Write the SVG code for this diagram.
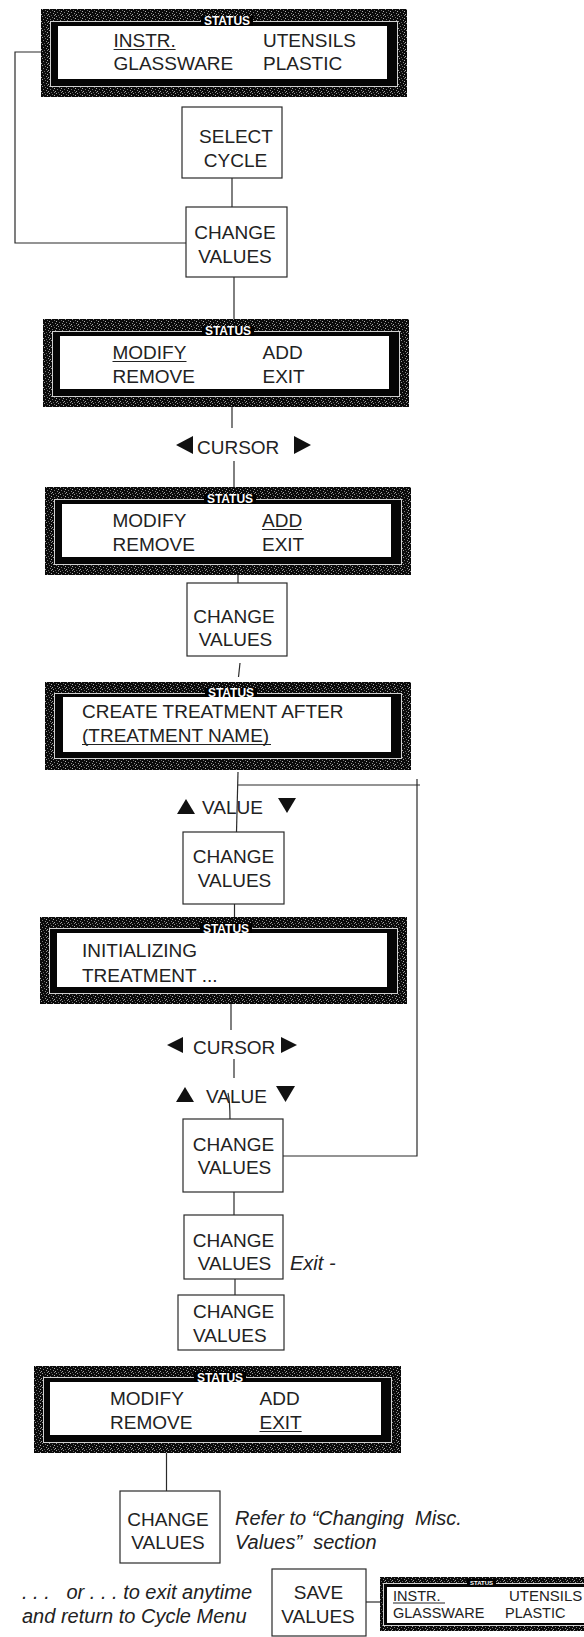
<svg xmlns="http://www.w3.org/2000/svg" width="584" height="1637" viewBox="0 0 584 1637">
  <defs>
    <!-- dithered dark fill for the display bezels -->
    <pattern id="grain" width="7" height="7" patternUnits="userSpaceOnUse">
      <rect width="7" height="7" fill="#0a0a0a"/>
      <rect x="1" y="0" width="1" height="1" fill="#9a9a9a"/>
      <rect x="4" y="1" width="1" height="1" fill="#6a6a6a"/>
      <rect x="6" y="2" width="1" height="1" fill="#b0b0b0"/>
      <rect x="2" y="3" width="1" height="1" fill="#7a7a7a"/>
      <rect x="5" y="4" width="1" height="1" fill="#8c8c8c"/>
      <rect x="0" y="5" width="1" height="1" fill="#a5a5a5"/>
      <rect x="3" y="6" width="1" height="1" fill="#5e5e5e"/>
      <rect x="6" y="6" width="1" height="1" fill="#888"/>
    </pattern>
    <style>
      .t { font-family: "Liberation Sans", Arial, sans-serif; font-size: 19px; fill: #222; }
      .mid { text-anchor: middle; }
      .it { font-family: "Liberation Sans", Arial, sans-serif; font-style: italic; font-size: 20px; fill: #222; white-space: pre; }
      .status { font-family: "Liberation Sans", Arial, sans-serif; font-weight: bold; font-size: 12px; fill: #fff; text-anchor: middle; }
      .box { fill: #fff; stroke: #2a2a2a; stroke-width: 1.2; }
      .conn path { fill: none; stroke: #2a2a2a; stroke-width: 1.2; }
      .lcd-frame { fill: url(#grain); }
      .lcd-band { fill: #050505; stroke: #d0d0d0; stroke-width: 1; }
      .lcd-panel { fill: #fff; }
      .ul { stroke: #222; stroke-width: 1.2; }
      .tri { fill: #111; }
    </style>
  </defs>

  <rect width="584" height="1637" fill="#fff"/>

  <!-- connectors -->
  <g id="connectors" class="conn">
    <path d="M41,52 H15 V243 H186"/>
    <path d="M232,178 V207"/>
    <path d="M234,277 V319"/>
    <path d="M232,407 V428"/>
    <path d="M234,461 V487"/>
    <path d="M238,574 V583"/>
    <path d="M240,663 L238.5,677"/>
    <path d="M238,772 L236.5,832"/>
    <path d="M238,785 H420"/>
    <path d="M417,779 V1156 H283"/>
    <path d="M234.5,904 V917"/>
    <path d="M231,1004 V1030"/>
    <path d="M234,1059 V1078"/>
    <path d="M228,1093 Q230,1102 230,1119"/>
    <path d="M234,1192 V1215"/>
    <path d="M235,1279 V1295"/>
    <path d="M166.5,1453 V1491"/>
    <path d="M366,1602 H380"/>
  </g>

  <!-- display: cycle menu -->
  <g id="lcd-cycle-menu" transform="translate(41,9)">
    <rect class="lcd-frame" width="366" height="88"/>
    <rect class="lcd-band" x="9.5" y="12.5" width="347" height="65"/>
    <rect class="lcd-panel" x="17" y="17" width="329" height="53"/>
    <rect x="160" y="7" width="52" height="10" fill="#000"/>
    <text class="status" x="186" y="16.3">STATUS</text>
    <text class="t" x="72.6" y="38">INSTR.</text>
    <line class="ul" x1="72.6" y1="40.5" x2="134.6" y2="40.5"/>
    <text class="t" x="222" y="38">UTENSILS</text>
    <text class="t" x="72.6" y="61">GLASSWARE</text>
    <text class="t" x="222" y="61">PLASTIC</text>
  </g>

  <g id="box-select-cycle">
    <rect class="box" x="182" y="107" width="100" height="71"/>
    <text class="t mid" x="236" y="143">SELECT</text>
    <text class="t mid" x="235.5" y="167">CYCLE</text>
  </g>

  <g id="box-change-1">
    <rect class="box" x="186" y="207" width="101" height="70"/>
    <text class="t mid" x="235" y="239">CHANGE</text>
    <text class="t mid" x="235" y="263">VALUES</text>
  </g>

  <!-- display: modify selected -->
  <g id="lcd-modify" transform="translate(43,319)">
    <rect class="lcd-frame" width="366" height="88"/>
    <rect class="lcd-band" x="9.5" y="12.5" width="347" height="65"/>
    <rect class="lcd-panel" x="17" y="17" width="329" height="53"/>
    <rect x="159" y="7" width="52" height="10" fill="#000"/>
    <text class="status" x="185" y="16.3">STATUS</text>
    <text class="t" x="69.5" y="40">MODIFY</text>
    <line class="ul" x1="69.5" y1="42.5" x2="143.5" y2="42.5"/>
    <text class="t" x="219.5" y="40">ADD</text>
    <text class="t" x="69.5" y="64">REMOVE</text>
    <text class="t" x="219.5" y="64">EXIT</text>
  </g>

  <g id="label-cursor-1">
    <polygon class="tri" points="176,445 193,436 193,454"/>
    <text class="t" x="197" y="454">CURSOR</text>
    <polygon class="tri" points="294,436 294,454 311,445"/>
  </g>

  <!-- display: add selected -->
  <g id="lcd-add" transform="translate(45,487)">
    <rect class="lcd-frame" width="366" height="88"/>
    <rect class="lcd-band" x="9.5" y="12.5" width="347" height="65"/>
    <rect class="lcd-panel" x="17" y="17" width="329" height="53"/>
    <rect x="159" y="7" width="52" height="10" fill="#000"/>
    <text class="status" x="185" y="16.3">STATUS</text>
    <text class="t" x="67.5" y="40">MODIFY</text>
    <text class="t" x="217" y="40">ADD</text>
    <line class="ul" x1="217" y1="42.5" x2="257" y2="42.5"/>
    <text class="t" x="67.5" y="64">REMOVE</text>
    <text class="t" x="217" y="64">EXIT</text>
  </g>

  <g id="box-change-2">
    <rect class="box" x="187" y="583" width="100" height="73"/>
    <text class="t mid" x="234" y="623">CHANGE</text>
    <text class="t mid" x="235.5" y="646">VALUES</text>
  </g>

  <!-- display: create treatment -->
  <g id="lcd-create" transform="translate(45,682)">
    <rect class="lcd-frame" width="366" height="88"/>
    <rect class="lcd-band" x="9.5" y="11.5" width="347" height="65"/>
    <rect class="lcd-panel" x="18" y="15" width="328" height="55"/>
    <rect x="160" y="6" width="52" height="9" fill="#000"/>
    <text class="status" x="186" y="15">STATUS</text>
    <text class="t" x="37" y="36">CREATE TREATMENT AFTER</text>
    <text class="t" x="37" y="60">(TREATMENT NAME)</text>
    <line class="ul" x1="37" y1="62.5" x2="226" y2="62.5"/>
  </g>

  <g id="label-value-1">
    <polygon class="tri" points="177,814 186,799 195,814"/>
    <text class="t" x="202" y="814">VALUE</text>
    <polygon class="tri" points="278,798 296,798 287,813"/>
  </g>

  <g id="box-change-3">
    <rect class="box" x="183" y="832" width="101" height="72"/>
    <text class="t mid" x="233.5" y="863">CHANGE</text>
    <text class="t mid" x="234.5" y="887">VALUES</text>
  </g>

  <!-- display: initializing -->
  <g id="lcd-initializing" transform="translate(40,917)">
    <rect class="lcd-frame" width="367" height="87"/>
    <rect class="lcd-band" x="9.5" y="11.5" width="348" height="65"/>
    <rect class="lcd-panel" x="17" y="16" width="330" height="54"/>
    <rect x="160" y="6" width="52" height="10" fill="#000"/>
    <text class="status" x="186" y="15.5">STATUS</text>
    <text class="t" x="42" y="40">INITIALIZING</text>
    <text class="t" x="42" y="65">TREATMENT ...</text>
  </g>

  <g id="label-cursor-2">
    <polygon class="tri" points="167,1045 183,1037 183,1053"/>
    <text class="t" x="193" y="1054">CURSOR</text>
    <polygon class="tri" points="281,1037 281,1053 297,1045"/>
  </g>

  <g id="label-value-2">
    <polygon class="tri" points="176,1102 185,1087 194,1102"/>
    <text class="t" x="206" y="1103">VALUE</text>
    <polygon class="tri" points="276,1086 295,1086 285.5,1102"/>
  </g>

  <g id="box-change-4">
    <rect class="box" x="183" y="1119" width="100" height="73"/>
    <text class="t mid" x="233.5" y="1151">CHANGE</text>
    <text class="t mid" x="234.5" y="1174">VALUES</text>
  </g>

  <g id="box-change-5">
    <rect class="box" x="184" y="1215" width="99" height="64"/>
    <text class="t mid" x="233.5" y="1247">CHANGE</text>
    <text class="t mid" x="234.5" y="1270">VALUES</text>
    <text class="it" x="290" y="1270" xml:space="preserve">Exit -</text>
  </g>

  <g id="box-change-6">
    <rect class="box" x="178" y="1295" width="106" height="55"/>
    <text class="t" x="193" y="1318">CHANGE</text>
    <text class="t" x="193" y="1342">VALUES</text>
  </g>

  <!-- display: exit selected -->
  <g id="lcd-exit" transform="translate(34,1366)">
    <rect class="lcd-frame" width="367" height="87"/>
    <rect class="lcd-band" x="9.5" y="11.5" width="348" height="65"/>
    <rect class="lcd-panel" x="16" y="16" width="331" height="53"/>
    <rect x="160" y="6" width="52" height="10" fill="#000"/>
    <text class="status" x="186" y="15.5">STATUS</text>
    <text class="t" x="76" y="39">MODIFY</text>
    <text class="t" x="225.5" y="39">ADD</text>
    <text class="t" x="76" y="63">REMOVE</text>
    <text class="t" x="225.5" y="63">EXIT</text>
    <line class="ul" x1="225.5" y1="65.5" x2="267.7" y2="65.5"/>
  </g>

  <g id="box-change-misc">
    <rect class="box" x="120" y="1491" width="100" height="72"/>
    <text class="t mid" x="168" y="1526">CHANGE</text>
    <text class="t mid" x="168" y="1549">VALUES</text>
    <text class="it" x="235" y="1525" xml:space="preserve">Refer to “Changing  Misc.</text>
    <text class="it" x="235" y="1549" xml:space="preserve">Values”  section</text>
  </g>

  <g id="note-exit-anytime">
    <text class="it" x="22" y="1599" xml:space="preserve">. . .   or . . . to exit anytime</text>
    <text class="it" x="22" y="1623" xml:space="preserve">and return to Cycle Menu</text>
  </g>

  <g id="box-save-values">
    <rect class="box" x="272" y="1569" width="94" height="67"/>
    <text class="t mid" x="318.5" y="1599">SAVE</text>
    <text class="t mid" x="318" y="1623">VALUES</text>
  </g>

  <!-- small display: back at cycle menu -->
  <g id="lcd-cycle-menu-small">
    <rect class="lcd-frame" x="380" y="1577" width="230" height="54"/>
    <rect class="lcd-band" x="383.5" y="1583.5" width="223" height="42"/>
    <rect class="lcd-panel" x="387" y="1587" width="215" height="36"/>
    <rect x="467" y="1579" width="29" height="6" fill="#000"/>
    <text class="status" x="481.5" y="1585" style="font-size:6px">STATUS</text>
    <text class="t" x="393" y="1601" style="font-size:14.5px">INSTR.</text>
    <line class="ul" x1="393" y1="1603" x2="445" y2="1603"/>
    <text class="t" x="509" y="1601" style="font-size:15px">UTENSILS</text>
    <text class="t" x="393" y="1618" style="font-size:14.5px">GLASSWARE</text>
    <text class="t" x="505" y="1618" style="font-size:14.5px">PLASTIC</text>
  </g>
</svg>
